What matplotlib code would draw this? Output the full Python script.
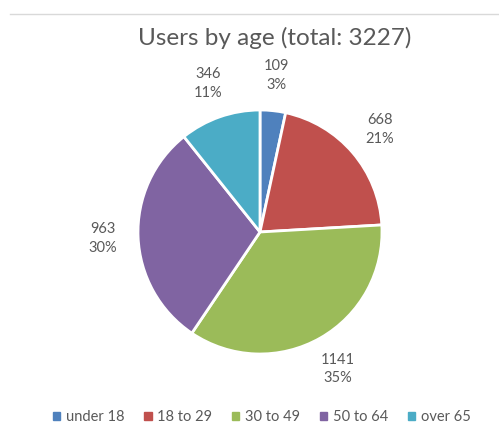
import matplotlib.pyplot as plt
from matplotlib.lines import Line2D
from matplotlib.patches import Rectangle

categories = ['under 18', '18 to 29', '30 to 49', '50 to 64', 'over 65']
users = [109, 668, 1141, 963, 346]
percents = [3, 21, 35, 30, 11]
colors = ['#4F81BD', '#C0504D', '#9BBB59', '#8064A2', '#4BACC6']

W, H = 499, 438
plt.rcParams['font.family'] = ['Lato', 'DejaVu Sans']
text_color = '#595959'

fig = plt.figure(figsize=(W / 100, H / 100), dpi=100)
ax = fig.add_axes([0, 0, 1, 1])

labels = [f'{v}\n{p}%' for v, p in zip(users, percents)]
wedges, texts = ax.pie(users, colors=colors, labels=labels, startangle=90,
                       counterclock=False, center=(260, H - 232), radius=122,
                       labeldistance=1.29, frame=True,
                       wedgeprops=dict(edgecolor='white', linewidth=2),
                       textprops=dict(fontsize=10.5, color=text_color, linespacing=1.4))
for t in texts:
    t.set_ha('center')
    t.set_va('center')
ax.set_xlim(0, W)
ax.set_ylim(0, H)
ax.set_aspect('equal')
ax.axis('off')

fig.text(0.55, 1 - 38 / H, 'Users by age (total: 3227)', ha='center', va='center',
         fontsize=17.5, color=text_color)

# thin rule across the top
fig.add_artist(Line2D([10 / W, 1], [1 - 14 / H, 1 - 14 / H], color='#D9D9D9', lw=1))

handles = [Rectangle((0, 0), 1, 1, color=c) for c in colors]
fig.legend(handles, categories, loc='center', bbox_to_anchor=(0.525, 1 - 417 / H),
           ncol=5, frameon=False, fontsize=10.5, handlelength=0.5, handleheight=0.5,
           handletextpad=0.4, columnspacing=1.35, labelcolor=text_color)

fig.savefig('out.png', dpi=100, facecolor='white')
